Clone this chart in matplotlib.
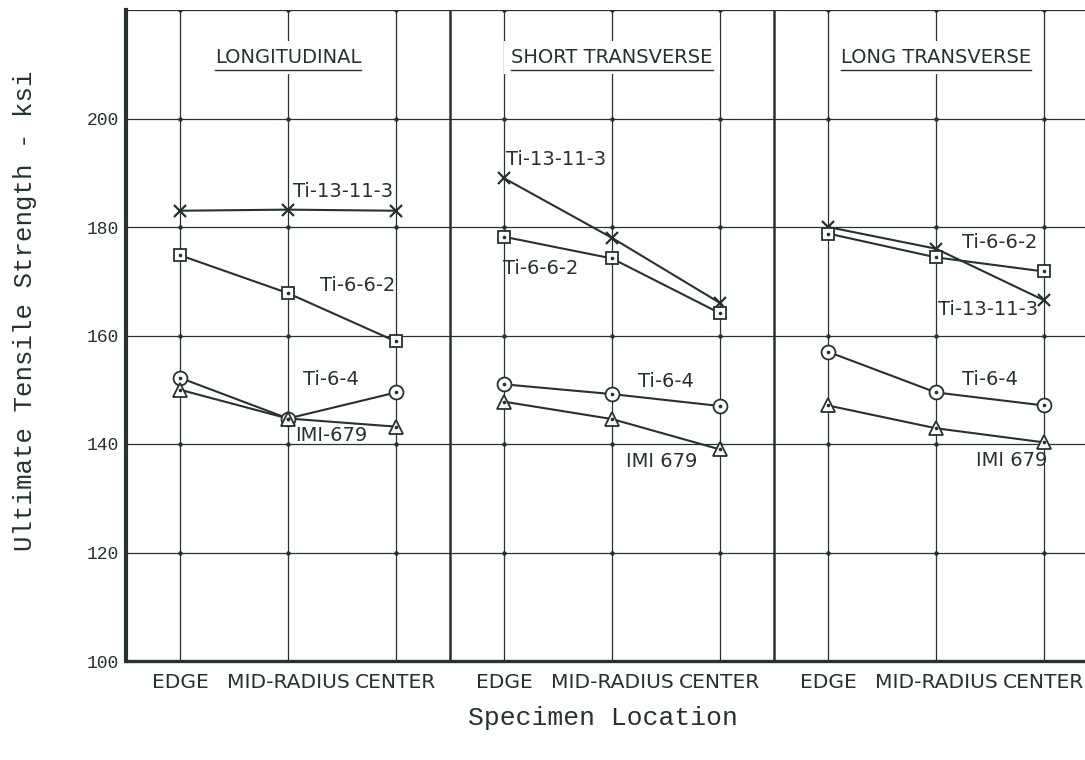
import matplotlib
matplotlib.use("Agg")
import matplotlib.pyplot as plt
import numpy as np

# Specimen locations within each bar and the three test orientations
locations = ["EDGE", "MID-RADIUS", "CENTER"]
orientations = ["LONGITUDINAL", "SHORT TRANSVERSE", "LONG TRANSVERSE"]

# Ultimate tensile strength (ksi): one row per orientation, columns follow `locations`
ti_13_11_3 = [[183.0, 183.2, 183.0], [189.0, 178.0, 166.0], [180.0, 176.0, 166.5]]
ti_6_6_2 = [[174.8, 167.8, 158.9], [178.2, 174.2, 164.1], [178.8, 174.4, 171.8]]
ti_6_4 = [[152.2, 144.7, 149.5], [151.0, 149.2, 147.0], [157.0, 149.5, 147.1]]
imi_679 = [[150.0, 144.7, 143.2], [147.8, 144.6, 139.0], [147.1, 142.9, 140.3]]

y_ticks = [100, 120, 140, 160, 180, 200]

INK = "#26322e"
SANS = ["DejaVu Sans"]
MONO = ["Liberation Mono"]

fig = plt.figure(figsize=(10.85, 7.6), dpi=100)
ax = fig.add_axes([126 / 1085, 99 / 760, 959 / 1085, 651 / 760])

ax.set_xlim(0, 959 / 108)
ax.set_ylim(100, 220)

# Location positions: each orientation occupies three units, locations at the half-units
xpos = [[p * 3 + i + 0.5 for i in range(len(locations))] for p in range(len(orientations))]
all_x = [x for grp in xpos for x in grp]

# Grid
for x in all_x:
    ax.axvline(x, color=INK, lw=0.9, zorder=1)
for y in y_ticks[1:]:
    ax.axhline(y, color=INK, lw=0.9, zorder=1)
for x in [3, 6]:
    ax.axvline(x, color=INK, lw=1.8, zorder=1)
ax.axhline(220, color=INK, lw=0.9, zorder=1)
# small dots where grid lines cross
gx, gy = np.meshgrid(all_x, y_ticks[1:] + [220])
ax.plot(gx.ravel(), gy.ravel(), ls="none", marker="o", ms=2.2, color=INK, zorder=1.5)

series = [
    (ti_13_11_3, "x", 9, 1.6),
    (ti_6_6_2, "s", 9, 1.3),
    (ti_6_4, "o", 10, 1.3),
    (imi_679, "^", 10, 1.3),
]

for data, mk, ms, mew in series:
    for p in range(len(orientations)):
        xs = xpos[p]
        ys = data[p]
        ax.plot(xs, ys, color=INK, lw=1.5, zorder=3)
        if mk == "x":
            ax.plot(xs, ys, ls="none", marker="x", ms=ms, mew=mew,
                    color=INK, zorder=4)
        else:
            ax.plot(xs, ys, ls="none", marker=mk, ms=ms, mew=mew,
                    mfc="white", mec=INK, zorder=4)
            ax.plot(xs, ys, ls="none", marker="o", ms=1.6, color=INK, zorder=5)

label_font = dict(family=SANS, color=INK, fontsize=14, zorder=6)

# Orientation headings, underlined
heads = []
for p, name in enumerate(orientations):
    cx = p * 3 + 1.5
    heads.append(ax.text(cx, 211.2, name, ha="center", va="center",
                         bbox=dict(facecolor="white", edgecolor="none", pad=5),
                         **label_font))
fig.canvas.draw()
for txt in heads:
    bb = txt.get_window_extent().transformed(ax.transData.inverted())
    ax.plot([bb.x0, bb.x1], [208.9, 208.9], color=INK, lw=1.0, zorder=7)

# Alloy labels (left edge, vertical centre)
alloy_labels = [
    (1.55, 186.6, "Ti-13-11-3"),
    (1.80, 169.3, "Ti-6-6-2"),
    (1.64, 151.8, "Ti-6-4"),
    (1.57, 141.6, "IMI-679"),
    (3.52, 192.5, "Ti-13-11-3"),
    (3.49, 172.4, "Ti-6-6-2"),
    (4.74, 151.5, "Ti-6-4"),
    (4.63, 136.7, "IMI 679"),
    (7.74, 177.2, "Ti-6-6-2"),
    (7.52, 164.8, "Ti-13-11-3"),
    (7.74, 151.8, "Ti-6-4"),
    (7.87, 137.0, "IMI 679"),
]
for x, y, s in alloy_labels:
    ax.text(x, y, s, ha="left", va="center", **label_font)

# Axes
ax.set_xticks(all_x)
ax.set_xticklabels(locations * len(orientations), family=SANS,
                   fontsize=14.6, color=INK)
ax.set_yticks(y_ticks)
ax.set_yticklabels([str(v) for v in y_ticks], family=MONO,
                   fontsize=13, color=INK)
ax.tick_params(axis="x", length=0, pad=9)
ax.tick_params(axis="y", length=0, pad=5)

for side in ["top", "right"]:
    ax.spines[side].set_visible(False)
ax.spines["left"].set_linewidth(3.0)
ax.spines["bottom"].set_linewidth(2.4)
ax.spines["left"].set_color(INK)
ax.spines["bottom"].set_color(INK)

fig.text(25 / 1085, 1 - 311 / 760, "Ultimate Tensile Strength - ksi", rotation=90,
         ha="center", va="center", family=MONO, fontsize=18.5, color=INK)
fig.text(603 / 1085, 1 - 718 / 760, "Specimen Location", ha="center", va="center",
         family=MONO, fontsize=19, color=INK)

fig.savefig("out.png", dpi=100)
